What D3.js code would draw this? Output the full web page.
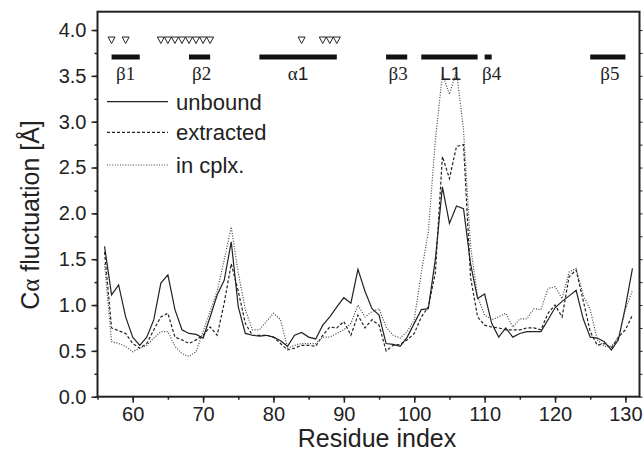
<!DOCTYPE html>
<html lang="en">
<head>
<meta charset="utf-8">
<title>C-alpha fluctuation</title>
<script src="https://cdn.jsdelivr.net/npm/d3@7"></script>
<style>
    body { margin: 0; background: #fff; }
    svg { display: block; }
    text { font-family: 'Liberation Sans', Arial, sans-serif; fill: #222; }
    .serif { font-family: 'Liberation Serif', 'Times New Roman', serif; }
    .axis path, .axis line { stroke: #222; }
</style>
</head>
<body>
<svg id="chart"></svg>
<script>
    // residue numbers on the x axis
    const residues = [56, 57, 58, 59, 60, 61, 62, 63, 64, 65, 66, 67, 68, 69, 70,
        71, 72, 73, 74, 75, 76, 77, 78, 79, 80, 81, 82, 83, 84, 85, 86, 87, 88, 89, 90,
        91, 92, 93, 94, 95, 96, 97, 98, 99, 100, 101, 102, 103, 104, 105, 106, 107, 108,
        109, 110, 111, 112, 113, 114, 115, 116, 117, 118, 119, 120, 121, 122, 123, 124,
        125, 126, 127, 128, 129, 130, 131];

    // C-alpha fluctuation (Angstrom)
    const unbound = [1.64, 1.11, 1.22, 0.87, 0.65, 0.56, 0.65, 0.84, 1.24, 1.33, 0.95,
        0.73, 0.69, 0.68, 0.64, 0.87, 1.11, 1.27, 1.69, 0.98, 0.69, 0.67, 0.66, 0.67, 0.65,
        0.61, 0.55, 0.67, 0.70, 0.65, 0.63, 0.78, 0.87, 0.98, 1.08, 1.02, 1.39, 1.15, 0.96,
        0.89, 0.58, 0.57, 0.55, 0.65, 0.80, 0.95, 0.96, 1.50, 2.29, 1.89, 2.08, 2.05, 1.45,
        1.07, 1.12, 0.80, 0.65, 0.75, 0.65, 0.69, 0.71, 0.71, 0.71, 0.84, 0.97, 1.04, 1.10,
        1.16, 0.85, 0.65, 0.64, 0.60, 0.51, 0.62, 0.98, 1.40];
    const extracted = [1.58, 0.75, 0.72, 0.69, 0.58, 0.53, 0.58, 0.73, 0.87, 0.91, 0.65,
        0.62, 0.58, 0.62, 0.67, 0.76, 0.67, 1.02, 1.45, 1.15, 0.80, 0.67, 0.67, 0.67, 0.65,
        0.58, 0.51, 0.53, 0.56, 0.56, 0.55, 0.67, 0.76, 0.75, 0.82, 0.67, 0.89, 0.75, 0.84,
        0.78, 0.50, 0.56, 0.57, 0.62, 0.69, 0.87, 0.98, 1.35, 2.62, 2.38, 2.73, 2.75, 1.30,
        0.87, 0.78, 0.76, 0.75, 0.73, 0.73, 0.73, 0.75, 0.75, 0.73, 0.91, 1.00, 0.87, 1.31,
        1.38, 1.05, 0.71, 0.56, 0.58, 0.53, 0.65, 0.73, 0.89];
    const inComplex = [1.45, 0.60, 0.58, 0.55, 0.49, 0.53, 0.56, 0.64, 0.71, 0.71, 0.55,
        0.47, 0.44, 0.49, 0.71, 0.93, 1.15, 1.49, 1.85, 1.35, 0.95, 0.73, 0.73, 0.82, 0.91,
        0.84, 0.53, 0.56, 0.58, 0.58, 0.58, 0.65, 0.65, 0.69, 0.73, 0.80, 1.00, 0.87, 0.93,
        0.96, 0.76, 0.67, 0.64, 0.71, 0.84, 1.35, 1.80, 2.80, 3.52, 3.30, 3.55, 2.91, 1.64,
        1.09, 0.89, 0.84, 0.87, 0.91, 0.76, 0.85, 0.85, 0.96, 0.95, 1.18, 1.20, 1.07, 1.36,
        1.40, 1.11, 0.95, 0.62, 0.55, 0.55, 0.64, 0.95, 1.16];

    // series names and their line dashes
    const seriesNames = ['unbound', 'extracted', 'in cplx.'];
    const seriesValues = [unbound, extracted, inComplex];
    const seriesDash = [null, '3,2', '1,1.6'];

    // secondary structure elements: [start, end] residues and labels
    const elements = ['β1', 'β2', 'α1', 'β3', 'L1', 'β4', 'β5'];
    const elementStart = [57, 68, 78, 96, 101, 110, 125];
    const elementEnd   = [61, 71, 89, 99, 109, 111, 130];
    const elementLabelAt = [59, 69.8, 83.5, 97.7, 105.2, 111, 127.8];

    // residues marked with open triangles
    const marked = [57, 59, 64, 65, 66, 67, 68, 69, 70, 71, 84, 87, 88, 89];

    // tick values
    const yTicks = [0, 0.5, 1, 1.5, 2, 2.5, 3, 3.5, 4];
    const xTicks = [60, 70, 80, 90, 100, 110, 120, 130];

    const WIDTH = 644, HEIGHT = 460;
    const LEFT = 97.5, RIGHT = 639.5, TOP = 11.7, BOTTOM = 396.7;

    const svg = d3.select('#chart').attr('width', WIDTH).attr('height', HEIGHT);

    const x = d3.scaleLinear().domain([55, 132]).range([LEFT, RIGHT]);
    const y = d3.scaleLinear().domain([0, 4.2]).range([BOTTOM, TOP]);

    // minor ticks
    const yMinor = d3.range(0, 4.2, 0.25);
    const xMinor = d3.range(55, 132, 5);

    svg.append('g').attr('class', 'axis')
        .attr('transform', `translate(${LEFT},0)`)
        .call(d3.axisLeft(y).tickValues(yMinor).tickSize(3).tickFormat(''))
        .call(g => g.select('.domain').remove())
        .selectAll('line').attr('stroke-width', 1.5);
    svg.append('g').attr('class', 'axis')
        .attr('transform', `translate(${LEFT},0)`)
        .call(d3.axisLeft(y).tickValues(yTicks).tickSize(6).tickPadding(5).tickFormat(d3.format('.1f')))
        .call(g => g.select('.domain').remove())
        .call(g => g.selectAll('line').attr('stroke-width', 1.5))
        .selectAll('text').style('font-size', '20px').attr('fill', '#222');

    svg.append('g').attr('class', 'axis')
        .attr('transform', `translate(0,${BOTTOM})`)
        .call(d3.axisBottom(x).tickValues(xMinor).tickSize(3).tickFormat(''))
        .call(g => g.select('.domain').remove())
        .selectAll('line').attr('stroke-width', 1.5);
    svg.append('g').attr('class', 'axis')
        .attr('transform', `translate(0,${BOTTOM})`)
        .call(d3.axisBottom(x).tickValues(xTicks).tickSize(6).tickPadding(4))
        .call(g => g.select('.domain').remove())
        .call(g => g.selectAll('line').attr('stroke-width', 1.5))
        .selectAll('text').style('font-size', '20px').attr('fill', '#222');

    // right side ticks
    svg.append('g').attr('class', 'axis')
        .attr('transform', `translate(${RIGHT},0)`)
        .call(d3.axisRight(y).tickValues(yMinor).tickSize(3).tickFormat(''))
        .call(g => g.select('.domain').remove())
        .selectAll('line').attr('stroke-width', 1);

    // frame
    svg.append('rect')
        .attr('x', LEFT).attr('y', TOP)
        .attr('width', RIGHT - LEFT).attr('height', BOTTOM - TOP)
        .attr('fill', 'none').attr('stroke', '#222').attr('stroke-width', 2);

    // the three curves
    const line = d3.line()
        .x((d, i) => x(residues[i]))
        .y(d => y(d));

    svg.append('g')
        .selectAll('path')
        .data(seriesValues)
        .join('path')
        .attr('d', line)
        .attr('fill', 'none')
        .attr('stroke', (d, i) => i == 2 ? '#444' : '#222')
        .attr('stroke-width', (d, i) => i == 2 ? 1.2 : 1.2)
        .attr('stroke-dasharray', (d, i) => seriesDash[i]);

    // triangles
    const triangle = 'M-3.5,-3 L3.5,-3 L0,3.5 Z';
    svg.append('g')
        .selectAll('path')
        .data(marked)
        .join('path')
        .attr('d', triangle)
        .attr('transform', d => `translate(${x(d)},40)`)
        .attr('fill', 'none')
        .attr('stroke', '#222')
        .attr('stroke-width', 1);

    // secondary structure bars and labels
    const ss = svg.append('g');
    ss.selectAll('rect')
        .data(elements)
        .join('rect')
        .attr('x', (d, i) => x(elementStart[i]))
        .attr('width', (d, i) => x(elementEnd[i]) - x(elementStart[i]))
        .attr('y', 54.5)
        .attr('height', 5)
        .attr('fill', '#111');

    ss.selectAll('text')
        .data(elements)
        .join('text')
        .attr('x', (d, i) => x(elementLabelAt[i]))
        .attr('y', 80)
        .attr('text-anchor', 'middle')
        .style('font-size', '19px')
        .each(function(d) {
            const t = d3.select(this);
            const greek = d[0] == 'β' || d[0] == 'α';
            t.append('tspan').attr('class', greek ? 'serif' : null).text(d[0]);
            // the digit after β is serif as well, after α and L it is sans
            t.append('tspan').attr('class', d[0] == 'β' ? 'serif' : null).text(d.slice(1));
        });

    // legend
    const legend = svg.append('g');
    seriesNames.forEach((name, i) => {
        const ly = [101.7, 132.3, 165][i];
        legend.append('line')
            .attr('x1', 107).attr('x2', 168)
            .attr('y1', ly).attr('y2', ly)
            .attr('stroke', i == 2 ? '#444' : '#222')
            .attr('stroke-width', 1.2)
            .attr('stroke-dasharray', seriesDash[i]);
        legend.append('text')
            .attr('x', 176).attr('y', ly + 8)
            .style('font-size', '22px')
            .text(name);
    });

    // axis titles
    svg.append('text')
        .attr('x', 377).attr('y', 447)
        .attr('text-anchor', 'middle')
        .style('font-size', '25px')
        .text('Residue index');

    const yTitle = svg.append('text')
        .attr('transform', 'translate(39,215) rotate(-90)')
        .attr('text-anchor', 'middle')
        .style('font-size', '25px');
    yTitle.append('tspan').text('C');
    yTitle.append('tspan').attr('class', 'serif').text('α');
    yTitle.append('tspan').text(' fluctuation [Å]');
</script>
</body>
</html>
